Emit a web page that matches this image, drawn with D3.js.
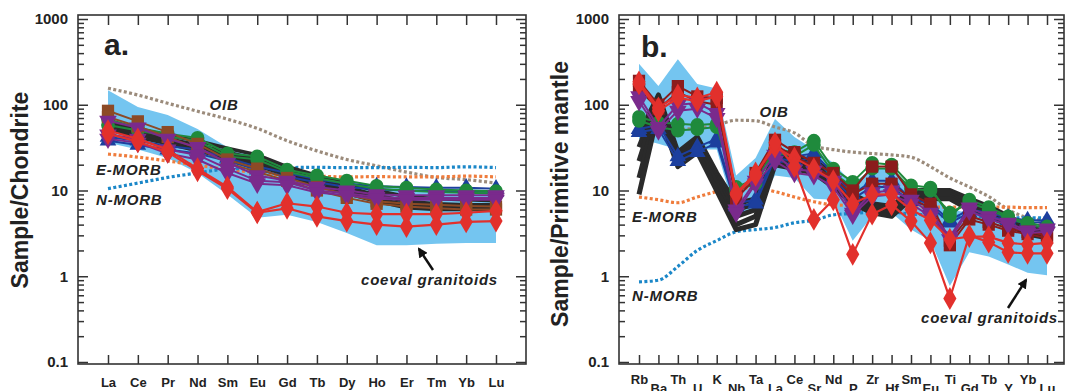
<!DOCTYPE html>
<html>
<head>
<meta charset="utf-8">
<script src="https://cdn.jsdelivr.net/npm/d3@7"></script>
<style>
  body { margin: 0; background: #fff; }
  svg { display: block; font-family: Arial, "Liberation Sans", sans-serif; }
</style>
</head>
<body>
<svg id="chart" width="1065" height="391"></svg>
<script>
// ---- categories / ticks ----
const reeElements = ['La','Ce','Pr','Nd','Sm','Eu','Gd','Tb','Dy','Ho','Er','Tm','Yb','Lu'];
const spiderElements = ['Rb','Ba','Th','U','K','Nb','Ta','La','Ce','Sr','Nd','P','Zr','Hf','Sm','Eu','Ti','Gd','Tb','Y','Yb','Lu'];
const yTickValues = [0.1, 1, 10, 100, 1000];

// ---- panel a: chondrite normalised REE ----
const reeOIB   = [156,130,104,84,68,53,38,29,23,19.4,16.4,14.2,13.4,12.2];
const reeEMORB = [26.6,24.5,22.1,19.7,17.6,16.2,14.9,14.7,14.4,14.5,14.4,14.4,14.7,14.4];
const reeNMORB = [10.5,12.2,14.2,16.0,17.8,18.1,18.5,18.6,18.5,18.5,18.6,18.5,18.9,18.5];
const reeGranUpper = [148,94,76,52,32,26,19,15,13,11.5,11,10.5,10.5,10];
const reeGranLower = [36,30,24,16,9,4.8,5.2,4.3,3.2,2.3,2.3,2.4,2.45,2.45];
const reeBlack = [
  [62,52,44,38,31,26,19,15,12,10,8.5,8,7.8,7.6],
  [58,48,40,34,28,23,17,13.5,11,8.8,7.5,7,6.8,6.8],
  [55,45,37,31,26,21,16,12.5,10,8,6.8,6.4,6.3,6.3],
  [52,42,35,29,24,19.5,15,11.5,9.2,7.5,6.3,6,6,6]
];
const reeBlue = [
  [42,38,33,30,24,19,16,13.5,12,11.2,11,10.8,10.8,10.5],
  [38,34,30,27,22,17.5,14.5,12.5,11,10.3,10,9.8,9.8,9.6]
];
const reeGreen = [
  [68,54,46,41,27,25,17.5,15,13,11.3,10.8,10.3,10,9.8],
  [58,50,43,38,25,23,16.5,14,12,10.5,10,9.6,9.4,9.2]
];
const reeBrown = [
  [85,64,48,35,23,18,14,11,9,7.5,7,6.8,6.6,6.5],
  [72,56,42,31,21,16.5,13,10,8.2,7,6.5,6.2,6,6]
];
const reePurple = [
  [65,54,40,32,21,15,13,11,10,9,8.8,8.8,8.8,8.8],
  [45,40,30,26,18,13,12.5,10,9.3,8.4,8.2,8.2,8.2,8.2],
  [40,36,27,23,16,12,11.5,9.5,8.8,8,7.8,7.8,7.8,7.8]
];
const reeRed = [
  [50,40,30,18,11,5.6,7.1,6.5,5.5,5.3,5.3,5.3,5.5,5.8],
  [46,37,28,17,10.5,5.5,6.2,5.0,4.4,4.0,3.8,4.0,4.3,4.4]
];

// ---- panel b: primitive mantle normalised ----
const spOIB   = [54,53,52,53,58,66,65,55,47,33,30,28,27,26,24.5,19,14,11,8.5,6,4.8,4.5];
const spEMORB = [8.4,7.8,7.2,8.4,9.7,10.7,10.7,9.7,8.4,7.4,6.8,6.7,6.7,6.7,6.5,6.4,6.4,6.4,6.4,6.4,6.3,6.3];
const spNMORB = [0.86,0.9,1.3,2.0,2.6,3.3,3.5,3.7,4.2,4.5,5.2,5.4,5.6,5.6,5.3,5.2,5.0,5.0,4.9,4.8,4.8,4.8];
const spGranUpper = [300,165,340,175,155,15,24,68,42,30,21,12,18,18,11,8.5,6,5.5,5.3,4.8,3.8,3.8];
const spGranLower = [40,35,30,30,30,5,6,15,14,8,7.8,2.6,5,5.5,3.5,2.6,0.77,1.9,1.7,1.37,1.1,1.03];
const spBlack = [
  [45,130,28,42,16,7,8,26,25,22,16,9,7,6.5,10,10,10,8,6.5,5,3.8,3.5],
  [32,122,26,39,14.5,6,7,25,23,21,15,8.5,6.7,6.2,9.5,9.5,9.5,7.5,6.2,4.7,3.6,3.3],
  [22,112,24,36,13,5,6,24,22,20,14,8,6.5,6,9,9,9,7,6,4.5,3.5,3.2],
  [14,100,21,32,12,4,5,22,20,18,12,7.5,6,5.5,8.5,8.5,8.5,6.5,5.5,4.2,3.3,3.0],
  [9,85,19,28,10,3.5,4,20,18,16,11,7,5.5,5,8,8,8,6,5,4,3.1,2.8]
];
const spBlue = [
  [52,58,25,32,40,7.1,7.8,27,25,27,16,9,13,13,8,7,4.5,6,5.5,4.8,4.5,4.5],
  [48,52,22,28,36,6.5,7,24,22,24,14,8,11,11,7.5,6.5,4.2,5.5,5,4.5,4.2,4.3]
];
const spGreen = [
  [72,62,60,58,60,11,13.5,30,28,38,18,12.6,21,20,11.5,10.8,5,7.8,6.4,5,4.2,3.8],
  [65,55,50,52,55,10,12,28,25,34,16,11,18,18,10.5,10,5.5,7.2,6,4.8,4,3.6]
];
const spBrown = [
  [190,100,165,125,120,8.5,16,39,28,21,16,10,19,19,9,7,2.6,5,4.3,3.6,3.3,3.0],
  [150,90,140,110,100,8,14,34,25,19,14,9,12,12,8,6.3,2.3,4.6,4,3.4,3.1,2.8]
];
const spPurple = [
  [125,55,100,105,80,6,13,26,17.5,17,13,5.5,9.5,10,7.8,5.5,2.9,6.3,5,4.2,3.4,3.6],
  [110,50,85,90,70,5.5,12,22,16,15,11,5.2,8.5,9,7,5,2.7,5.8,4.6,4,3.2,3.3]
];
const spRed = [
  [185,92,130,120,140,9.3,16,32,24,18,13,7,9,9,6,4.5,2.7,2.9,2.9,2.45,2.35,2.45],
  [175,85,120,110,125,9,15,36,19,4.6,7.8,1.8,5.3,6.8,4.4,2.45,0.55,3.0,2.5,1.9,1.85,1.85]
];

const C = {
  frame: '#333', area: '#74c5f0',
  oib: '#9b8b7b', emorb: '#ef7c3c', nmorb: '#1b87c8',
  black: '#2a2a2a', blue: '#1c3f9e', green: '#1f8a3c',
  brown: '#8c4a26', darkred: '#8b1c1c', purple: '#7a2a8c', red: '#e2302c'
};

const svg = d3.select('#chart');
const defs = svg.append('defs');
defs.append('marker')
    .attr('id', 'arrowhead')
    .attr('viewBox', '0 0 10 10')
    .attr('refX', 8).attr('refY', 5)
    .attr('markerWidth', 4).attr('markerHeight', 4)
    .attr('orient', 'auto-start-reverse')
    .append('path').attr('d', 'M0,0L10,5L0,10z').attr('fill', '#111');

function drawPanel(p) {
    const x = d3.scalePoint().domain(p.elements).range(p.xRange);
    const y = d3.scaleLog().domain([0.1, 1000]).range([362, 19]);
    const g = svg.append('g');
    const f = p.frame;

    // coeval granitoids field
    const area = d3.area()
        .x((d, i) => x(p.elements[i]))
        .y0((d, i) => y(p.lower[i]))
        .y1(d => y(d));
    g.append('path').datum(p.upper).attr('d', area).attr('fill', C.area);

    // reference compositions (dotted)
    const smooth = d3.line()
        .x((d, i) => x(p.elements[i]))
        .y(d => y(d))
        .curve(d3.curveMonotoneX);
    p.refs.forEach(r => {
        g.append('path').datum(r.values)
            .attr('d', smooth)
            .attr('fill', 'none')
            .attr('stroke', r.color)
            .attr('stroke-width', 3.2)
            .attr('stroke-dasharray', '3,2.4');
    });

    // sample groups
    const line = d3.line()
        .x((d, i) => x(p.elements[i]))
        .y(d => y(d));
    p.groups.forEach(grp => {
        grp.rows.forEach(row => {
            g.append('path').datum(row)
                .attr('d', line)
                .attr('fill', 'none')
                .attr('stroke', grp.color)
                .attr('stroke-width', grp.width)
                .attr('stroke-linejoin', 'round');
            if (!grp.symbol) return;
            const sym = d3.symbol().type(grp.symbol).size(grp.size);
            g.selectAll(null).data(row).enter().append('path')
                .attr('d', sym)
                .attr('fill', grp.color)
                .attr('transform', (d, i) => 'translate(' + x(p.elements[i]) + ',' + y(d) + ')' + (grp.flip ? ' rotate(180)' : ''));
        });
    });

    // axes
    const minors = [];
    [0.1, 1, 10, 100].forEach(dec => { for (let k = 2; k <= 9; k++) minors.push(dec * k); });
    const clean = s => s.select('.domain').remove();

    g.append('g').attr('transform', 'translate(' + f.left + ',0)')
        .call(d3.axisLeft(y).tickValues(yTickValues).tickSizeInner(-10).tickSizeOuter(0).tickPadding(10).tickFormat(d3.format('~g')))
        .call(clean)
        .attr('font-size', 15).attr('font-weight', 'bold').attr('font-family', 'Arial, "Liberation Sans", sans-serif');
    g.append('g').attr('transform', 'translate(' + f.left + ',0)')
        .call(d3.axisLeft(y).tickValues(minors).tickSize(-6).tickFormat(''))
        .call(clean);
    g.append('g').attr('transform', 'translate(' + f.right + ',0)')
        .call(d3.axisRight(y).tickValues(yTickValues).tickSizeInner(-10).tickSizeOuter(0).tickFormat(''))
        .call(clean);
    g.append('g').attr('transform', 'translate(' + f.right + ',0)')
        .call(d3.axisRight(y).tickValues(minors).tickSize(-6).tickFormat(''))
        .call(clean);
    g.append('g').attr('transform', 'translate(0,' + f.top + ')')
        .call(d3.axisTop(x).tickSizeInner(-10).tickSizeOuter(0).tickFormat(''))
        .call(clean);
    const bottom = g.append('g').attr('transform', 'translate(0,' + f.bottom + ')')
        .call(d3.axisBottom(x).tickSizeInner(-9).tickSizeOuter(0).tickPadding(p.labelPad[0]))
        .call(clean)
        .attr('font-size', 13).attr('font-weight', 'bold').attr('font-family', 'Arial, "Liberation Sans", sans-serif');
    bottom.selectAll('.tick text').attr('y', (d, i) => p.labelPad[i % 2]);
    g.selectAll('.tick line').attr('stroke', C.frame).attr('stroke-width', 1.5);
    g.selectAll('.tick text').attr('fill', '#222');

    // frame
    g.append('rect')
        .attr('x', f.left).attr('y', f.top)
        .attr('width', f.right - f.left).attr('height', f.bottom - f.top)
        .attr('fill', 'none').attr('stroke', C.frame).attr('stroke-width', 1.6);

    // texts
    g.append('text')
        .attr('transform', 'translate(' + p.title.x + ',' + p.title.y + ') rotate(-90)')
        .attr('text-anchor', 'middle')
        .attr('font-size', 23).attr('font-weight', 'bold').attr('fill', '#222')
        .text(p.title.text);
    g.append('text').attr('x', p.tag.x).attr('y', p.tag.y)
        .attr('font-size', 30).attr('font-weight', 'bold').attr('fill', '#222')
        .text(p.tag.text);
    p.notes.forEach(n => {
        g.append('text').attr('x', n.x).attr('y', n.y)
            .attr('text-anchor', n.anchor || 'start')
            .attr('font-size', 15).attr('font-weight', 'bold').attr('font-style', 'italic')
            .attr('letter-spacing', 0.8).attr('fill', '#222')
            .text(n.text);
    });
    g.append('line')
        .attr('x1', p.arrow[0]).attr('y1', p.arrow[1])
        .attr('x2', p.arrow[2]).attr('y2', p.arrow[3])
        .attr('stroke', '#111').attr('stroke-width', 2.5)
        .attr('marker-end', 'url(#arrowhead)');
}

drawPanel({
    elements: reeElements,
    xRange: [108, 496],
    frame: { left: 78, right: 526, top: 15, bottom: 364 },
    upper: reeGranUpper, lower: reeGranLower,
    refs: [
        { values: reeOIB, color: C.oib },
        { values: reeEMORB, color: C.emorb },
        { values: reeNMORB, color: C.nmorb }
    ],
    groups: [
        { rows: reeBlack, color: C.black, width: 3.6 },
        { rows: reeBlue, color: C.blue, width: 2, symbol: d3.symbolTriangle, size: 120 },
        { rows: reeGreen, color: C.green, width: 2, symbol: d3.symbolCircle, size: 150 },
        { rows: reeBrown, color: C.brown, width: 2, symbol: d3.symbolSquare, size: 150 },
        { rows: reePurple, color: C.purple, width: 2, symbol: d3.symbolTriangle, size: 135, flip: true },
        { rows: reeRed, color: C.red, width: 2.2, symbol: d3.symbolDiamond, size: 150 }
    ],
    labelPad: [14, 14],
    title: { x: 28, y: 190, text: 'Sample/Chondrite' },
    tag: { x: 104, y: 55, text: 'a.' },
    notes: [
        { x: 224, y: 110, text: 'OIB', anchor: 'middle' },
        { x: 96, y: 175, text: 'E-MORB' },
        { x: 96, y: 205, text: 'N-MORB' },
        { x: 498, y: 285, text: 'coeval granitoids', anchor: 'end' }
    ],
    arrow: [433, 270, 419, 249]
});

drawPanel({
    elements: spiderElements,
    xRange: [639, 1047],
    frame: { left: 619, right: 1064, top: 15, bottom: 364 },
    upper: spGranUpper, lower: spGranLower,
    refs: [
        { values: spOIB, color: C.oib },
        { values: spEMORB, color: C.emorb },
        { values: spNMORB, color: C.nmorb }
    ],
    groups: [
        { rows: spBlack, color: C.black, width: 5 },
        { rows: spBlue, color: C.blue, width: 2, symbol: d3.symbolTriangle, size: 120 },
        { rows: spGreen, color: C.green, width: 2, symbol: d3.symbolCircle, size: 150 },
        { rows: spBrown, color: C.darkred, width: 2, symbol: d3.symbolSquare, size: 150 },
        { rows: spPurple, color: C.purple, width: 2, symbol: d3.symbolTriangle, size: 135, flip: true },
        { rows: spRed, color: C.red, width: 2.2, symbol: d3.symbolDiamond, size: 150 }
    ],
    labelPad: [11, 20],
    title: { x: 568, y: 194, text: 'Sample/Primitive mantle' },
    tag: { x: 641, y: 57, text: 'b.' },
    notes: [
        { x: 774, y: 117, text: 'OIB', anchor: 'middle' },
        { x: 632, y: 222, text: 'E-MORB' },
        { x: 632, y: 301, text: 'N-MORB' },
        { x: 1058, y: 323, text: 'coeval granitoids', anchor: 'end' }
    ],
    arrow: [1008, 308, 1026, 280]
});
</script>
</body>
</html>
